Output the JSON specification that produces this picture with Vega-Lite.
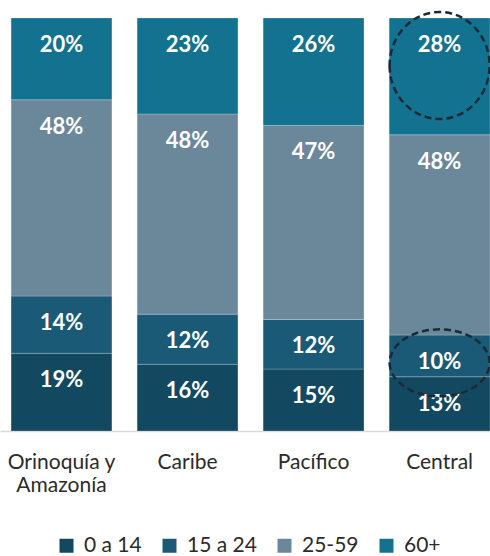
{
  "$schema": "https://vega.github.io/schema/vega-lite/v6.json",
  "width": 490,
  "height": 413,
  "autosize": {"type": "none"},
  "padding": {"left": 0, "top": 18, "right": 0, "bottom": 125},
  "background": "white",
  "config": {"view": {"stroke": null}, "font": "Lato"},
  "datasets": {
    "pop": [
      {"region": "Orinoquía y Amazonía", "group": "0 a 14", "pct": 0.19},
      {"region": "Orinoquía y Amazonía", "group": "15 a 24", "pct": 0.14},
      {"region": "Orinoquía y Amazonía", "group": "25-59", "pct": 0.48},
      {"region": "Orinoquía y Amazonía", "group": "60+", "pct": 0.20},
      {"region": "Caribe", "group": "0 a 14", "pct": 0.16},
      {"region": "Caribe", "group": "15 a 24", "pct": 0.12},
      {"region": "Caribe", "group": "25-59", "pct": 0.48},
      {"region": "Caribe", "group": "60+", "pct": 0.23},
      {"region": "Pacífico", "group": "0 a 14", "pct": 0.15},
      {"region": "Pacífico", "group": "15 a 24", "pct": 0.12},
      {"region": "Pacífico", "group": "25-59", "pct": 0.47},
      {"region": "Pacífico", "group": "60+", "pct": 0.26},
      {"region": "Central", "group": "0 a 14", "pct": 0.13},
      {"region": "Central", "group": "15 a 24", "pct": 0.10},
      {"region": "Central", "group": "25-59", "pct": 0.48},
      {"region": "Central", "group": "60+", "pct": 0.28}
    ],
    "marks": [
      {"region": "Central", "level": 0.885, "kind": "tall"},
      {"region": "Central", "level": 0.165, "kind": "flat"}
    ]
  },
  "layer": [
    {
      "data": {"name": "pop"},
      "transform": [
        {"stack": "pct", "groupby": ["region"], "sort": [{"field": "group", "order": "ascending"}], "offset": "normalize", "as": ["y0", "y1"]}
      ],
      "layer": [
        {
          "mark": {"type": "bar", "stroke": "white", "strokeWidth": 0.6, "strokeOpacity": 0.35},
          "encoding": {
            "x": {
              "field": "region", "type": "nominal",
              "sort": ["Orinoquía y Amazonía", "Caribe", "Pacífico", "Central"],
              "scale": {"paddingInner": 0.2, "paddingOuter": 0.044, "align": 1},
              "axis": {
                "title": null, "ticks": false, "domainColor": "#d9d9d9", "domainWidth": 1.5,
                "labelAngle": 0, "labelFontSize": 21, "labelColor": "#2b2b2b", "labelPadding": 20,
                "labelLineHeight": 23,
                "labelExpr": "datum.label == 'Orinoquía y Amazonía' ? ['Orinoquía y', 'Amazonía'] : datum.label"
              }
            },
            "y": {"field": "y0", "type": "quantitative", "scale": {"domain": [0, 1]}, "axis": null},
            "y2": {"field": "y1"},
            "color": {
              "field": "group", "type": "nominal",
              "scale": {"domain": ["0 a 14", "15 a 24", "25-59", "60+"], "range": ["#124961", "#1a5a77", "#6b889b", "#13728f"]},
              "legend": {
                "title": null, "orient": "none", "legendX": 56, "legendY": 517, "direction": "horizontal",
                "symbolType": "square", "symbolSize": 196, "symbolStrokeWidth": 0,
                "labelFontSize": 21, "labelColor": "#2b2b2b", "labelOffset": 7, "columnPadding": 17
              }
            }
          }
        },
        {
          "mark": {"type": "text", "color": "white", "fontSize": 22, "fontWeight": "bold", "baseline": "middle", "dy": 27},
          "encoding": {
            "x": {"field": "region", "type": "nominal", "sort": ["Orinoquía y Amazonía", "Caribe", "Pacífico", "Central"]},
            "y": {"field": "y1", "type": "quantitative"},
            "text": {"field": "pct", "type": "quantitative", "format": ".0%"},
            "detail": {"field": "group"}
          }
        }
      ]
    },
    {
      "data": {"name": "marks"},
      "transform": [{"filter": "datum.kind == 'tall'"}],
      "mark": {"type": "point", "shape": "M -1 0 A 1 1.07 0 1 0 1 0 A 1 1.07 0 1 0 -1 0 Z", "size": 10000, "filled": false, "stroke": "#1c2a38", "strokeWidth": 2.5, "strokeDash": [7, 4], "opacity": 1},
      "encoding": {
        "x": {"field": "region", "type": "nominal", "sort": ["Orinoquía y Amazonía", "Caribe", "Pacífico", "Central"]},
        "y": {"field": "level", "type": "quantitative"}
      }
    },
    {
      "data": {"name": "marks"},
      "transform": [{"filter": "datum.kind == 'flat'"}],
      "mark": {"type": "point", "shape": "M -1 0 A 1 0.67 0 1 0 1 0 A 1 0.67 0 1 0 -1 0 Z", "size": 10000, "filled": false, "stroke": "#1c2a38", "strokeWidth": 2.5, "strokeDash": [7, 4], "opacity": 1},
      "encoding": {
        "x": {"field": "region", "type": "nominal", "sort": ["Orinoquía y Amazonía", "Caribe", "Pacífico", "Central"]},
        "y": {"field": "level", "type": "quantitative"}
      }
    }
  ]
}
